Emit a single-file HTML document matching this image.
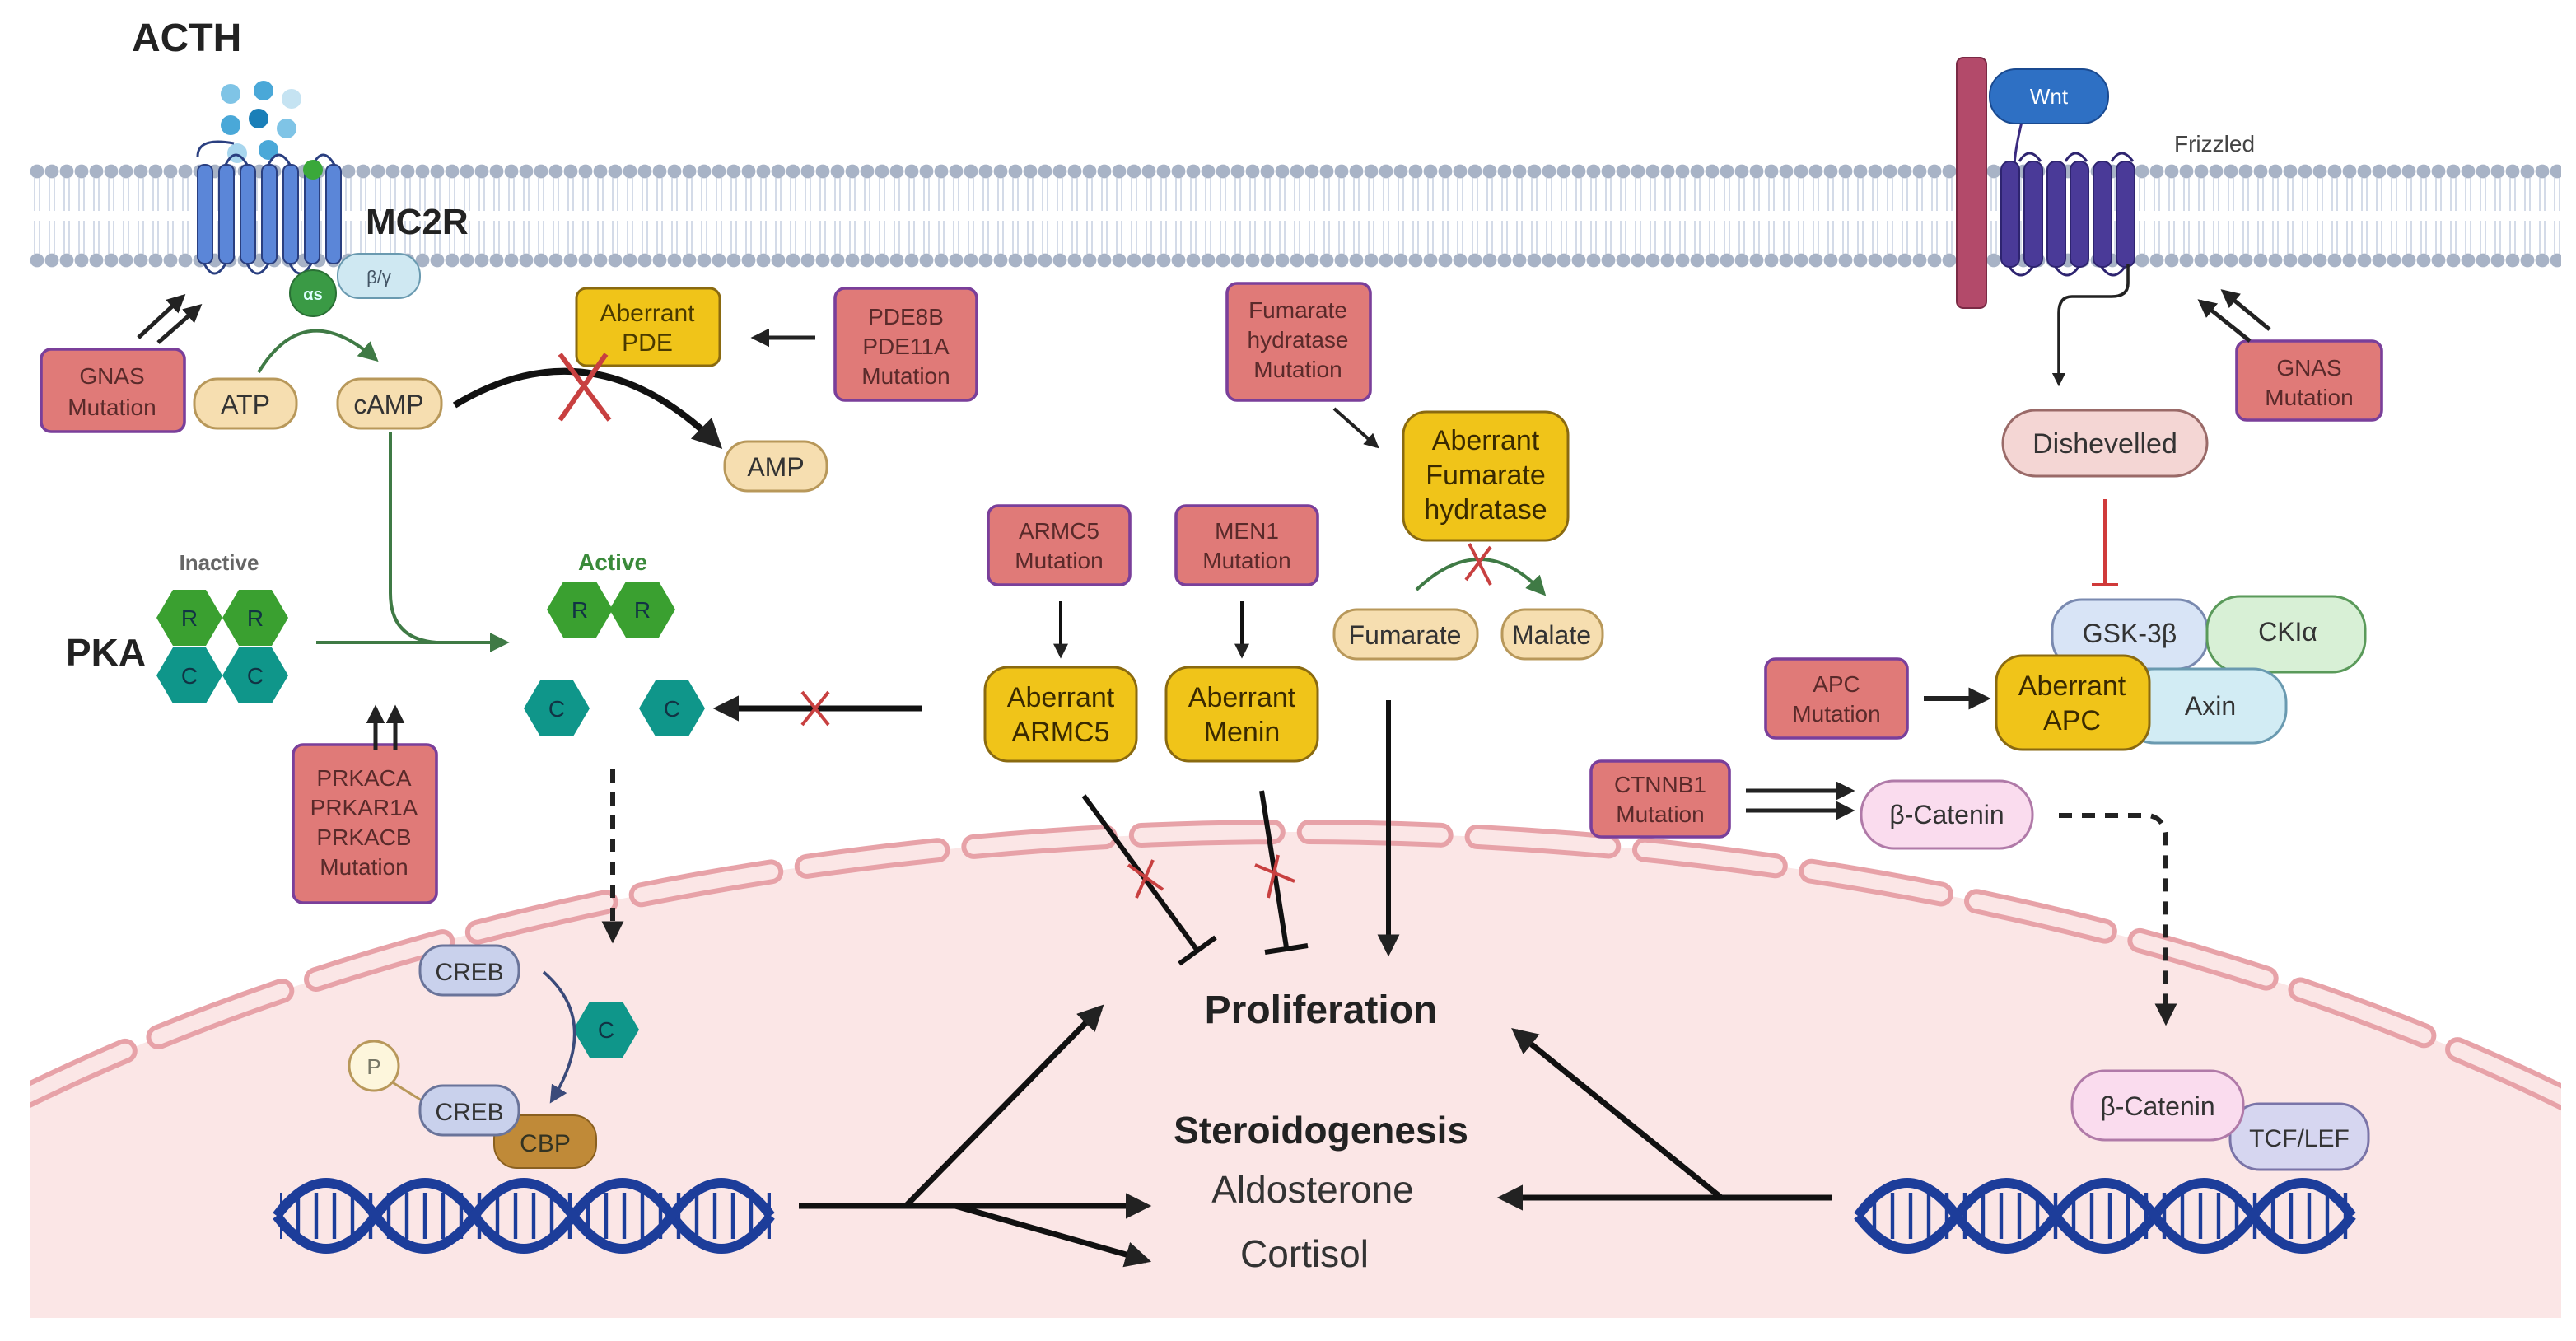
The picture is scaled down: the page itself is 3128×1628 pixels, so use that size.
<!DOCTYPE html>
<html><head><meta charset="utf-8"><style>
html,body{margin:0;padding:0;background:#fff;width:3128px;height:1628px;overflow:hidden}
svg{display:block}
text{font-family:"Liberation Sans",sans-serif}
</style></head><body>
<svg width="3128" height="1628" viewBox="0 0 1564 814" xmlns="http://www.w3.org/2000/svg">
<defs>
<marker id="ahs" viewBox="0 0 10 10" refX="8" refY="5" markerWidth="4.5" markerHeight="4.5" orient="auto"><path d="M0,0L10,5L0,10z" fill="#222"/></marker>
<marker id="ahg" viewBox="0 0 10 10" refX="8" refY="5" markerWidth="6" markerHeight="6" orient="auto"><path d="M0,0L10,5L0,10z" fill="#3f7a45"/></marker>
<marker id="ahb" viewBox="0 0 10 10" refX="8" refY="5" markerWidth="6" markerHeight="6" orient="auto"><path d="M0,0L10,5L0,10z" fill="#3a4a7a"/></marker>
<pattern id="mem" x="18" y="0" width="9" height="814" patternUnits="userSpaceOnUse">
<line x1="3" y1="108" x2="3" y2="128" stroke="#c9d2e2" stroke-width="0.8"/>
<line x1="6" y1="108" x2="6" y2="128" stroke="#c9d2e2" stroke-width="0.8"/>
<line x1="3" y1="134" x2="3" y2="154" stroke="#c9d2e2" stroke-width="0.8"/>
<line x1="6" y1="134" x2="6" y2="154" stroke="#c9d2e2" stroke-width="0.8"/>
<circle cx="4.5" cy="104" r="4.2" fill="#a8b3c6"/>
<circle cx="4.5" cy="158" r="4.2" fill="#a8b3c6"/>
</pattern>
<pattern id="rung" x="0" y="0" width="11" height="814" patternUnits="userSpaceOnUse">
<line x1="5" y1="724" x2="5" y2="752" stroke="#1d3d9a" stroke-width="2.2"/>
</pattern>
<polygon id="hex" points="-20,0 -10,-17 10,-17 20,0 10,17 -10,17"/>
<clipPath id="cellclip"><rect x="18" y="0" width="1537" height="800"/></clipPath>
</defs>

<g clip-path="url(#cellclip)">
<ellipse cx="785" cy="1130" rx="1150" ry="625" fill="#fbe6e6"/>
<ellipse cx="785" cy="1130" rx="1150" ry="625" fill="none" stroke="#e7a2a8" stroke-width="15" stroke-dasharray="80 22" stroke-linecap="round"/>
<ellipse cx="785" cy="1130" rx="1150" ry="625" fill="none" stroke="#fbe6e6" stroke-width="9" stroke-dasharray="80 22" stroke-linecap="round"/>
</g>
<rect x="18" y="800" width="1537" height="14" fill="#fff"/>

<rect x="18" y="98" width="1537" height="66" fill="url(#mem)"/>

<text x="80" y="31" font-size="24" font-weight="bold" fill="#222">ACTH</text>
<g>
<circle cx="140" cy="57" r="6" fill="#7fc4e6"/><circle cx="160" cy="55" r="6" fill="#4aa8d8"/><circle cx="177" cy="60" r="6" fill="#c5e3f2"/>
<circle cx="140" cy="76" r="6" fill="#4aa8d8"/><circle cx="157" cy="72" r="6" fill="#1a7fb8"/><circle cx="174" cy="78" r="6" fill="#7fc4e6"/>
<circle cx="144" cy="93" r="6" fill="#a8d6ee"/><circle cx="163" cy="91" r="6" fill="#4aa8d8"/>
</g>
<g fill="#5b86d8" stroke="#2a3f80" stroke-width="1">
<path d="M120,95 q0,-12 22,-8" fill="none" stroke="#2a3f80" stroke-width="1.5"/>
<rect x="120" y="100" width="9" height="60" rx="4"/><rect x="133" y="100" width="9" height="60" rx="4"/><rect x="146" y="100" width="9" height="60" rx="4"/>
<rect x="159" y="100" width="9" height="60" rx="4"/><rect x="172" y="100" width="9" height="60" rx="4"/><rect x="185" y="100" width="9" height="60" rx="4"/><rect x="198" y="100" width="9" height="60" rx="4"/>
<path d="M137,100 q6,-12 13,0 M163,100 q6,-12 13,0 M190,100 q6,-12 13,0 M124,160 q6,12 13,0 M150,160 q6,12 13,0 M176,160 q6,12 13,0" fill="none" stroke="#2a3f80" stroke-width="1.5"/>
</g>
<circle cx="190" cy="103" r="6" fill="#3aa83a"/>
<text x="222" y="142" font-size="22" font-weight="bold" fill="#222">MC2R</text>
<rect x="205" y="154" width="50" height="27" rx="13" fill="#cfe8f2" stroke="#6a9ab0"/>
<text x="230" y="172" font-size="11" fill="#456" text-anchor="middle">β/γ</text>
<circle cx="190" cy="178" r="14" fill="#3a9a45" stroke="#2a7035"/>
<text x="190" y="182" font-size="10" font-weight="bold" fill="#dff" text-anchor="middle">αs</text>
<line x1="84" y1="205" x2="111" y2="180" stroke="#222" stroke-width="2.5" marker-end="url(#ahs)"/>
<line x1="96" y1="208" x2="121" y2="186" stroke="#222" stroke-width="2.5" marker-end="url(#ahs)"/>

<g stroke="#7a3f9a" stroke-width="1.8" fill="#e07a78">
<rect x="25" y="212" width="87" height="50" rx="6"/>
<rect x="507" y="175" width="86" height="68" rx="6"/>
<rect x="745" y="172" width="87" height="71" rx="6"/>
<rect x="1358" y="207" width="88" height="48" rx="6"/>
<rect x="600" y="307" width="86" height="48" rx="6"/>
<rect x="714" y="307" width="86" height="48" rx="6"/>
<rect x="178" y="452" width="87" height="96" rx="6"/>
<rect x="1072" y="400" width="86" height="48" rx="6"/>
<rect x="966" y="462" width="84" height="46" rx="6"/>
</g>
<g font-size="14" fill="#5a2a2a" text-anchor="middle">
<text x="68" y="233">GNAS</text><text x="68" y="252">Mutation</text>
<text x="550" y="197">PDE8B</text><text x="550" y="215">PDE11A</text><text x="550" y="233">Mutation</text>
<text x="788" y="193">Fumarate</text><text x="788" y="211">hydratase</text><text x="788" y="229">Mutation</text>
<text x="1402" y="228">GNAS</text><text x="1402" y="246">Mutation</text>
<text x="643" y="327">ARMC5</text><text x="643" y="345">Mutation</text>
<text x="757" y="327">MEN1</text><text x="757" y="345">Mutation</text>
<text x="221" y="477">PRKACA</text><text x="221" y="495">PRKAR1A</text><text x="221" y="513">PRKACB</text><text x="221" y="531">Mutation</text>
<text x="1115" y="420">APC</text><text x="1115" y="438">Mutation</text>
<text x="1008" y="481">CTNNB1</text><text x="1008" y="499">Mutation</text>
</g>

<g fill="#f6deb0" stroke="#b8985a" stroke-width="1.5">
<rect x="118" y="230" width="62" height="30" rx="14"/>
<rect x="205" y="230" width="63" height="30" rx="14"/>
<rect x="440" y="268" width="62" height="30" rx="14"/>
<rect x="810" y="370" width="87" height="30" rx="14"/>
<rect x="912" y="370" width="61" height="30" rx="14"/>
</g>
<g font-size="16" fill="#333" text-anchor="middle">
<text x="149" y="251">ATP</text><text x="236" y="251">cAMP</text><text x="471" y="289">AMP</text>
<text x="853" y="391">Fumarate</text><text x="942" y="391">Malate</text>
</g>
<path d="M157,226 Q185,180 228,218" fill="none" stroke="#3f7a45" stroke-width="2" marker-end="url(#ahg)"/>

<g fill="#f0c419" stroke="#8a6a10" stroke-width="1.5">
<rect x="350" y="175" width="87" height="47" rx="6"/>
<rect x="852" y="250" width="100" height="78" rx="14"/>
<rect x="598" y="405" width="92" height="57" rx="14"/>
<rect x="708" y="405" width="92" height="57" rx="14"/>
</g>
<g font-size="15" fill="#4a3a00" text-anchor="middle">
<text x="393" y="195">Aberrant</text><text x="393" y="213">PDE</text>
</g>
<g font-size="17" fill="#3a2a00" text-anchor="middle">
<text x="902" y="273">Aberrant</text><text x="902" y="294">Fumarate</text><text x="902" y="315">hydratase</text>
<text x="644" y="429">Aberrant</text><text x="644" y="450">ARMC5</text>
<text x="754" y="429">Aberrant</text><text x="754" y="450">Menin</text>
</g>
<line x1="495" y1="205" x2="458" y2="205" stroke="#222" stroke-width="2.5" marker-end="url(#ahs)"/>
<path d="M276,246 Q360,195 436,270" fill="none" stroke="#111" stroke-width="4" marker-end="url(#ahs)"/>
<path d="M340,215 L370,255 M368,215 L340,255" stroke="#c84040" stroke-width="3"/>
<line x1="810" y1="248" x2="836" y2="271" stroke="#222" stroke-width="2" marker-end="url(#ahs)"/>
<path d="M860,358 Q900,320 937,360" fill="none" stroke="#3f7a45" stroke-width="2" marker-end="url(#ahg)"/>
<path d="M892,330 L905,355 M905,332 L890,352" stroke="#c84040" stroke-width="2"/>

<text x="133" y="346" font-size="13" font-weight="bold" fill="#666" text-anchor="middle">Inactive</text>
<text x="372" y="346" font-size="14" font-weight="bold" fill="#3a8a3a" text-anchor="middle">Active</text>
<text x="40" y="404" font-size="23" font-weight="bold" fill="#222">PKA</text>
<g fill="#3aa030"><use href="#hex" x="115" y="375"/><use href="#hex" x="155" y="375"/><use href="#hex" x="352" y="370"/><use href="#hex" x="390" y="370"/></g>
<g fill="#0f968a"><use href="#hex" x="115" y="410"/><use href="#hex" x="155" y="410"/><use href="#hex" x="338" y="430"/><use href="#hex" x="408" y="430"/><use href="#hex" x="368" y="625"/></g>
<g font-size="14" fill="#134" text-anchor="middle">
<text x="115" y="380">R</text><text x="155" y="380">R</text><text x="352" y="375">R</text><text x="390" y="375">R</text>
<text x="115" y="415">C</text><text x="155" y="415">C</text><text x="338" y="435">C</text><text x="408" y="435">C</text><text x="368" y="630">C</text>
</g>
<line x1="192" y1="390" x2="307" y2="390" stroke="#3f7a45" stroke-width="2" marker-end="url(#ahg)"/>
<path d="M237,262 L237,360 Q237,388 265,390" fill="none" stroke="#3f7a45" stroke-width="2"/>
<line x1="228" y1="455" x2="228" y2="430" stroke="#222" stroke-width="2.5" marker-end="url(#ahs)"/>
<line x1="240" y1="455" x2="240" y2="430" stroke="#222" stroke-width="2.5" marker-end="url(#ahs)"/>
<line x1="560" y1="430" x2="436" y2="430" stroke="#111" stroke-width="3.5" marker-end="url(#ahs)"/>
<path d="M487,420 L503,440 M503,420 L487,440" stroke="#c84040" stroke-width="2"/>
<line x1="372" y1="467" x2="372" y2="570" stroke="#222" stroke-width="3" stroke-dasharray="8 6" marker-end="url(#ahs)"/>

<rect x="255" y="574" width="60" height="30" rx="14" fill="#c9d1ec" stroke="#6a749a" stroke-width="1.5"/>
<text x="285" y="595" font-size="15" fill="#333" text-anchor="middle">CREB</text>
<path d="M330,590 Q365,620 335,668" fill="none" stroke="#3a4a7a" stroke-width="1.8" marker-end="url(#ahb)"/>
<line x1="235" y1="655" x2="256" y2="668" stroke="#b8985a" stroke-width="1.5"/>
<rect x="300" y="677" width="62" height="32" rx="14" fill="#c08a38" stroke="#8a6020"/>
<text x="331" y="699" font-size="15" fill="#332" text-anchor="middle">CBP</text>
<rect x="255" y="659" width="60" height="30" rx="14" fill="#c9d1ec" stroke="#6a749a" stroke-width="1.5"/>
<text x="285" y="680" font-size="15" fill="#333" text-anchor="middle">CREB</text>
<circle cx="227" cy="647" r="15" fill="#fdf6dc" stroke="#b8985a" stroke-width="1.5"/>
<text x="227" y="652" font-size="13" fill="#776" text-anchor="middle">P</text>

<!-- DNA -->
<rect x="170" y="720" width="298" height="40" fill="url(#rung)"/>
<rect x="1130" y="720" width="300" height="40" fill="url(#rung)"/>
<g stroke="#1d3d9a" fill="none" stroke-width="6">
<path d="M168,738 q30,40 60,0 t60,0 t60,0 t60,0 t60,0"/>
<path d="M168,738 q30,-40 60,0 t60,0 t60,0 t60,0 t60,0"/>
<path d="M1128,738 q30,40 60,0 t60,0 t60,0 t60,0 t60,0"/>
<path d="M1128,738 q30,-40 60,0 t60,0 t60,0 t60,0 t60,0"/>
</g>

<text x="802" y="621" font-size="24" font-weight="bold" fill="#222" text-anchor="middle">Proliferation</text>
<text x="802" y="694" font-size="23" font-weight="bold" fill="#222" text-anchor="middle">Steroidogenesis</text>
<text x="797" y="730" font-size="23" fill="#333" text-anchor="middle">Aldosterone</text>
<text x="792" y="769" font-size="23" fill="#333" text-anchor="middle">Cortisol</text>
<g stroke="#111" stroke-width="3.5" fill="none">
<path d="M485,732 L550,732 L668,612" marker-end="url(#ahs)"/>
<line x1="550" y1="732" x2="696" y2="732" marker-end="url(#ahs)"/>
<line x1="580" y1="732" x2="696" y2="765" marker-end="url(#ahs)"/>
<line x1="1112" y1="727" x2="912" y2="727" marker-end="url(#ahs)"/>
<line x1="1045" y1="727" x2="920" y2="626" marker-end="url(#ahs)"/>
<line x1="843" y1="425" x2="843" y2="578" stroke-width="3" marker-end="url(#ahs)"/>
<line x1="644" y1="365" x2="644" y2="398" stroke-width="2" marker-end="url(#ahs)"/>
<line x1="754" y1="365" x2="754" y2="398" stroke-width="2" marker-end="url(#ahs)"/>
<line x1="658" y1="483" x2="727" y2="577" stroke-width="3"/>
<line x1="716" y1="585" x2="738" y2="569" stroke-width="3"/>
<line x1="766" y1="480" x2="781" y2="575" stroke-width="3"/>
<line x1="768" y1="578" x2="794" y2="574" stroke-width="3"/>
</g>
<path d="M685,525 L706,540 M700,522 L690,545" stroke="#c84040" stroke-width="2"/>
<path d="M762,525 L786,535 M776,519 L770,545" stroke="#c84040" stroke-width="2"/>

<rect x="1188" y="35" width="18" height="152" rx="4" fill="#b34a6a" stroke="#7a2a45"/>
<path d="M1228,72 q-5,20 -5,30" fill="none" stroke="#3a2a80" stroke-width="1.5"/>
<g fill="#4a3a98" stroke="#2e2470">
<rect x="1215" y="98" width="11" height="64" rx="5"/><rect x="1229" y="98" width="11" height="64" rx="5"/><rect x="1243" y="98" width="11" height="64" rx="5"/><rect x="1257" y="98" width="11" height="64" rx="5"/><rect x="1271" y="98" width="11" height="64" rx="5"/><rect x="1285" y="98" width="11" height="64" rx="5"/>
</g>
<path d="M1226,98 q6,-10 13,0 M1254,98 q6,-10 13,0 M1282,98 q6,-10 13,0 M1220,162 q7,10 14,0 M1248,162 q7,10 14,0 M1276,162 q7,10 14,0" fill="none" stroke="#2e2470" stroke-width="1.5"/>
<path d="M1292,160 L1292,172 Q1292,180 1282,180 L1258,180 Q1250,180 1250,190 L1250,233" fill="none" stroke="#222" stroke-width="1.8" marker-end="url(#ahs)"/>
<rect x="1208" y="42" width="72" height="33" rx="16" fill="#2e70c4" stroke="#1a4a90"/>
<text x="1244" y="63" font-size="13" fill="#fff" text-anchor="middle">Wnt</text>
<text x="1320" y="92" font-size="14" fill="#444">Frizzled</text>
<line x1="1378" y1="200" x2="1350" y2="177" stroke="#222" stroke-width="2.5" marker-end="url(#ahs)"/>
<line x1="1366" y1="207" x2="1336" y2="183" stroke="#222" stroke-width="2.5" marker-end="url(#ahs)"/>
<rect x="1216" y="249" width="124" height="40" rx="20" fill="#f4d6d4" stroke="#9a6a68" stroke-width="1.5"/>
<text x="1278" y="275" font-size="17" fill="#333" text-anchor="middle">Dishevelled</text>
<line x1="1278" y1="303" x2="1278" y2="355" stroke="#d03a3a" stroke-width="2"/>
<line x1="1270" y1="355" x2="1286" y2="355" stroke="#d03a3a" stroke-width="2"/>

<rect x="1246" y="364" width="94" height="42" rx="18" fill="#d8e4f6" stroke="#7a8ab0" stroke-width="1.5"/>
<text x="1293" y="390" font-size="16" fill="#333" text-anchor="middle">GSK-3β</text>
<rect x="1340" y="362" width="96" height="46" rx="20" fill="#d8f0d6" stroke="#5a9a5a" stroke-width="1.5"/>
<text x="1389" y="389" font-size="16" fill="#333" text-anchor="middle">CKIα</text>
<rect x="1288" y="406" width="100" height="45" rx="20" fill="#d2ecf4" stroke="#6a9ab0" stroke-width="1.5"/>
<text x="1342" y="434" font-size="16" fill="#333" text-anchor="middle">Axin</text>
<rect x="1212" y="398" width="93" height="57" rx="16" fill="#f0c419" stroke="#8a6a10" stroke-width="1.5"/>
<text x="1258" y="422" font-size="17" fill="#3a2a00" text-anchor="middle">Aberrant</text>
<text x="1258" y="443" font-size="17" fill="#3a2a00" text-anchor="middle">APC</text>
<line x1="1168" y1="424" x2="1206" y2="424" stroke="#222" stroke-width="3" marker-end="url(#ahs)"/>

<line x1="1060" y1="480" x2="1124" y2="480" stroke="#222" stroke-width="2.5" marker-end="url(#ahs)"/>
<line x1="1060" y1="492" x2="1124" y2="492" stroke="#222" stroke-width="2.5" marker-end="url(#ahs)"/>
<rect x="1130" y="474" width="104" height="41" rx="20" fill="#fadcee" stroke="#b07aa8" stroke-width="1.5"/>
<text x="1182" y="500" font-size="16" fill="#333" text-anchor="middle">β-Catenin</text>
<path d="M1250,495 L1305,495 Q1315,497 1315,510 L1315,620" fill="none" stroke="#222" stroke-width="3" stroke-dasharray="8 6" marker-end="url(#ahs)"/>
<rect x="1354" y="670" width="84" height="40" rx="18" fill="#d6d6f0" stroke="#7a74a8" stroke-width="1.5"/>
<text x="1396" y="696" font-size="15" fill="#333" text-anchor="middle">TCF/LEF</text>
<rect x="1258" y="650" width="104" height="42" rx="20" fill="#fadcee" stroke="#b07aa8" stroke-width="1.5"/>
<text x="1310" y="677" font-size="16" fill="#333" text-anchor="middle">β-Catenin</text>
</svg>
</body></html>
